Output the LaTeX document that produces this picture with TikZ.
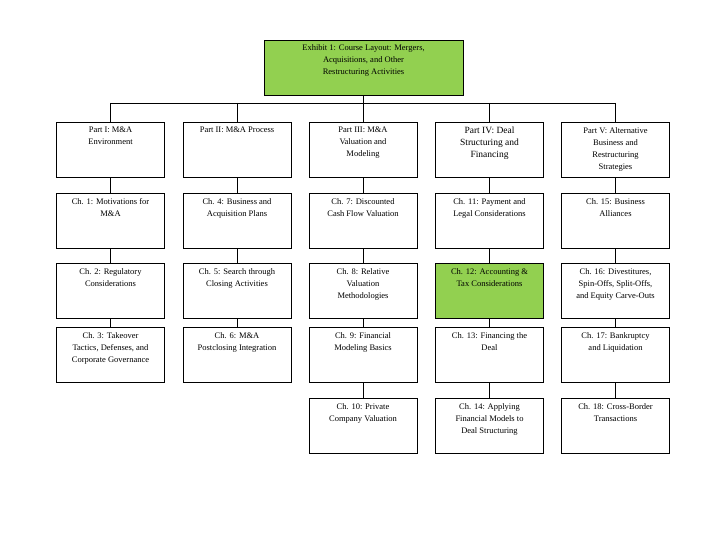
\documentclass[tikz,border=0pt]{standalone}
\usepackage{fontspec}
\setmainfont{Liberation Serif}
\definecolor{hl}{HTML}{92D050}
\newcommand{\bigf}{\fontsize{9.5}{13}\selectfont}
\begin{document}
\begin{tikzpicture}[x=1pt,y=-1pt,
  bx/.style={draw,line width=0.8pt,minimum width=108pt,minimum height=55pt,anchor=north},
  tx/.style={anchor=north,align=center,font=\fontsize{8.5}{12}\selectfont,inner sep=0pt},
  ln/.style={line width=0.8pt}]
\useasboundingbox (0,0) rectangle (720,540);
\node[bx,fill=hl,minimum width=199pt] (top) at (363.5,40) {};
\node[tx] (tt) at (363.5,44) {Exhibit 1: Course Layout: Mergers,\\Acquisitions, and Other\\Restructuring Activities};
\def\colx{{110.5,237,363,489.5,615.5}}
\def\rowy{{122,193,263,327,398}}
\foreach \c/\r/\t/\f in {
 1/1/{Part I: M\&A\\Environment}/white,
 2/1/{Part II: M\&A Process}/white,
 3/1/{Part III: M\&A\\Valuation and\\Modeling}/white,
 4/1/{\bigf Part IV: Deal\\\bigf Structuring and\\\bigf Financing}/white,
 5/1/{Part V: Alternative\\Business and\\Restructuring\\Strategies}/white,
 1/2/{Ch. 1: Motivations for\\M\&A}/white,
 2/2/{Ch. 4: Business and\\Acquisition Plans}/white,
 3/2/{Ch. 7: Discounted\\Cash Flow Valuation}/white,
 4/2/{Ch. 11: Payment and\\Legal Considerations}/white,
 5/2/{Ch. 15: Business\\Alliances}/white,
 1/3/{Ch. 2: Regulatory\\Considerations}/white,
 2/3/{Ch. 5: Search through\\Closing Activities}/white,
 3/3/{Ch. 8: Relative\\Valuation\\Methodologies}/white,
 4/3/{Ch. 12: Accounting \&\\Tax Considerations}/hl,
 5/3/{Ch. 16: Divestitures,\\Spin-Offs, Split-Offs,\\and Equity Carve-Outs}/white,
 1/4/{Ch. 3: Takeover\\Tactics, Defenses, and\\Corporate Governance}/white,
 2/4/{Ch. 6: M\&A\\Postclosing Integration}/white,
 3/4/{Ch. 9: Financial\\Modeling Basics}/white,
 4/4/{Ch. 13: Financing the\\Deal}/white,
 5/4/{Ch. 17: Bankruptcy\\and Liquidation}/white,
 3/5/{Ch. 10: Private\\Company Valuation}/white,
 4/5/{Ch. 14: Applying\\Financial Models to\\Deal Structuring}/white,
 5/5/{Ch. 18: Cross-Border\\Transactions}/white}{
  \pgfmathsetmacro{\xx}{\colx[\c-1]}
  \pgfmathsetmacro{\yy}{\rowy[\r-1]}
  \node[bx,fill=\f] (b\c\r) at (\xx,\yy) {};
  \node[tx] (t\c\r) at (\xx,\yy+5) {\t};
}
\coordinate (h1) at (110.5,103);
\coordinate (h5) at (615.5,103);
\draw[ln] (h1) -- (h5);
\draw[ln] (top.south) -- (top.south |- h1);
\foreach \c in {1,...,5} \draw[ln] (b\c1.north |- h1) -- (b\c1.north);
\foreach \c in {1,2} \foreach \r/\s in {1/2,2/3,3/4} \draw[ln] (b\c\r.south) -- (b\c\s.north);
\foreach \c in {3,4,5} \foreach \r/\s in {1/2,2/3,3/4,4/5} \draw[ln] (b\c\r.south) -- (b\c\s.north);
\end{tikzpicture}
\end{document}
